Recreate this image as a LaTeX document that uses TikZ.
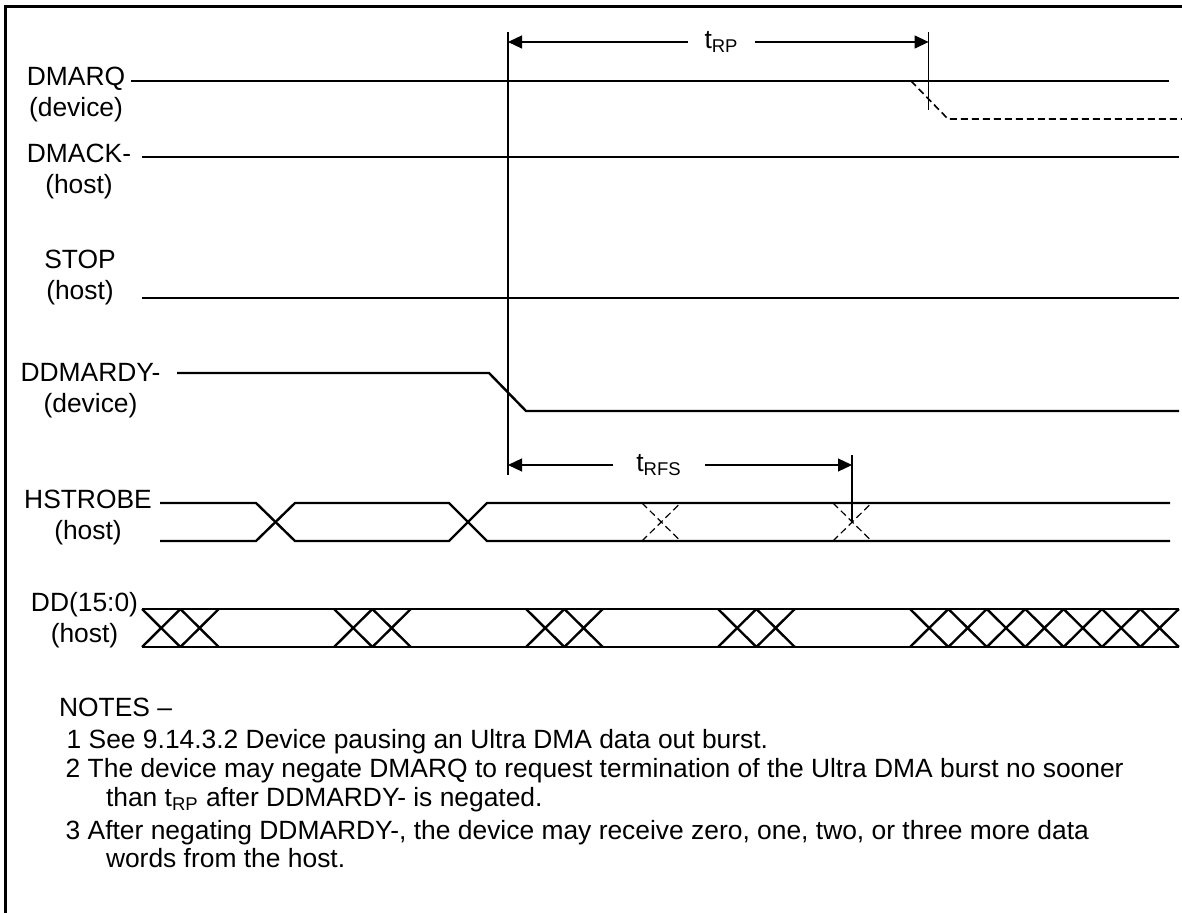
\documentclass[tikz,border=0pt]{standalone}
\usepackage{fontspec}
\setmainfont{Liberation Sans}
\usetikzlibrary{arrows.meta}

\begin{document}
\begin{tikzpicture}[x=0.5pt,y=-0.5pt,
    font=\fontsize{13.2}{15.5}\selectfont,
    sig/.style={line width=1.2pt},
    alt/.style={line width=0.8pt, dash pattern=on 3.5pt off 2pt},
    timeline/.style={line width=0.6pt},
    dim/.style={line width=0.6pt, -{Triangle[length=7pt,width=6.5pt]}},
    signame/.style={align=center, inner sep=0pt},
    dimlabel/.style={inner ysep=0pt}]
  \useasboundingbox (0,0) rectangle (1182,913);
  \draw[line width=1.3pt] (5.7,913) -- (5.7,6.7) -- (1182,6.7);

  % signal names
  \node[signame] (dmarq) at (76,95) {DMARQ\\(device)};
  \node[signame] (dmack) at (79,172) {DMACK-\\(host)};
  \node[signame] (stop) at (80,278) {STOP\\(host)};
  \node[signame] (ddmardy) at (90.5,391) {DDMARDY-\\(device)};
  \node[signame] (hstrobe) at (88,518) {HSTROBE\\(host)};
  \node[signame] (dd) at (84.5,620) {DD(15:0)\\(host)};

  % waveforms
  \draw[sig] (131,81) -- (1169,81);
  \draw[alt] (911,81) -- (948,119) -- (1182,119);
  \draw[sig] (142,157) -- (1179,157);
  \draw[sig] (142,298) -- (1179,298);
  \draw[sig] (177,373) -- (489,373) -- (526,411) -- (1179,411);

  \draw[sig] (160,503) -- (256,503) -- (295,541) -- (449,541) -- (487,503) -- (1170,503);
  \draw[sig] (160,541) -- (256,541) -- (295,503) -- (449,503) -- (487,541) -- (1170,541);
  \foreach \x in {642,833} {
    \draw[alt, line width=0.6pt] (\x,503) -- (\x+38.5,541);
    \draw[alt, line width=0.6pt] (\x,541) -- (\x+38.5,503);
  }

  \draw[sig] (142,609) -- (1179,609);
  \draw[sig] (142,647) -- (1179,647);
  \foreach \k in {0,1,5,6,10,11,15,16,20,21,...,26} {
    \draw[sig] ({142+38.4*\k},609) -- ({142+38.4*(\k+1)},647);
    \draw[sig] ({142+38.4*\k},647) -- ({142+38.4*(\k+1)},609);
  }

  % timing references
  \draw[timeline] (508,32) -- (508,475);
  \draw[timeline] (928.6,32) -- (928.6,110);
  \draw[timeline] (852,455) -- (852,522);

  \coordinate (rpL) at (508,42);
  \coordinate (rpR) at (928.6,42);
  \node[dimlabel, inner xsep=8pt] (trp) at (721.5,42) {t\textsubscript{RP}};
  \draw[dim] (trp) -- (rpL);
  \draw[dim] (trp) -- (rpR);

  \coordinate (rfsL) at (508,465);
  \coordinate (rfsR) at (852,465);
  \node[dimlabel, inner xsep=11.5pt] (trfs) at (659,465) {t\textsubscript{RFS}};
  \draw[dim] (trfs) -- (rfsL);
  \draw[dim] (trfs) -- (rfsR);

  % notes
  \node[anchor=base west, inner sep=0pt] (notes) at (58.7,716) {NOTES –};
  \node[anchor=base west, inner sep=0pt] (note1) at (66.3,748) {1 See 9.14.3.2 Device pausing an Ultra DMA data out burst.};
  \node[anchor=base west, inner sep=0pt] (note2) at (65.3,777) {2 The device may negate DMARQ to request termination of the Ultra DMA burst no sooner};
  \node[anchor=base west, inner sep=0pt] (note2b) at (105.6,806) {than t\textsubscript{RP} after DDMARDY- is negated.};
  \node[anchor=base west, inner sep=0pt] (note3) at (65.3,839) {3 After negating DDMARDY-, the device may receive zero, one, two, or three more data};
  \node[anchor=base west, inner sep=0pt] (note3b) at (105.6,867) {words from the host.};
\end{tikzpicture}
\end{document}
